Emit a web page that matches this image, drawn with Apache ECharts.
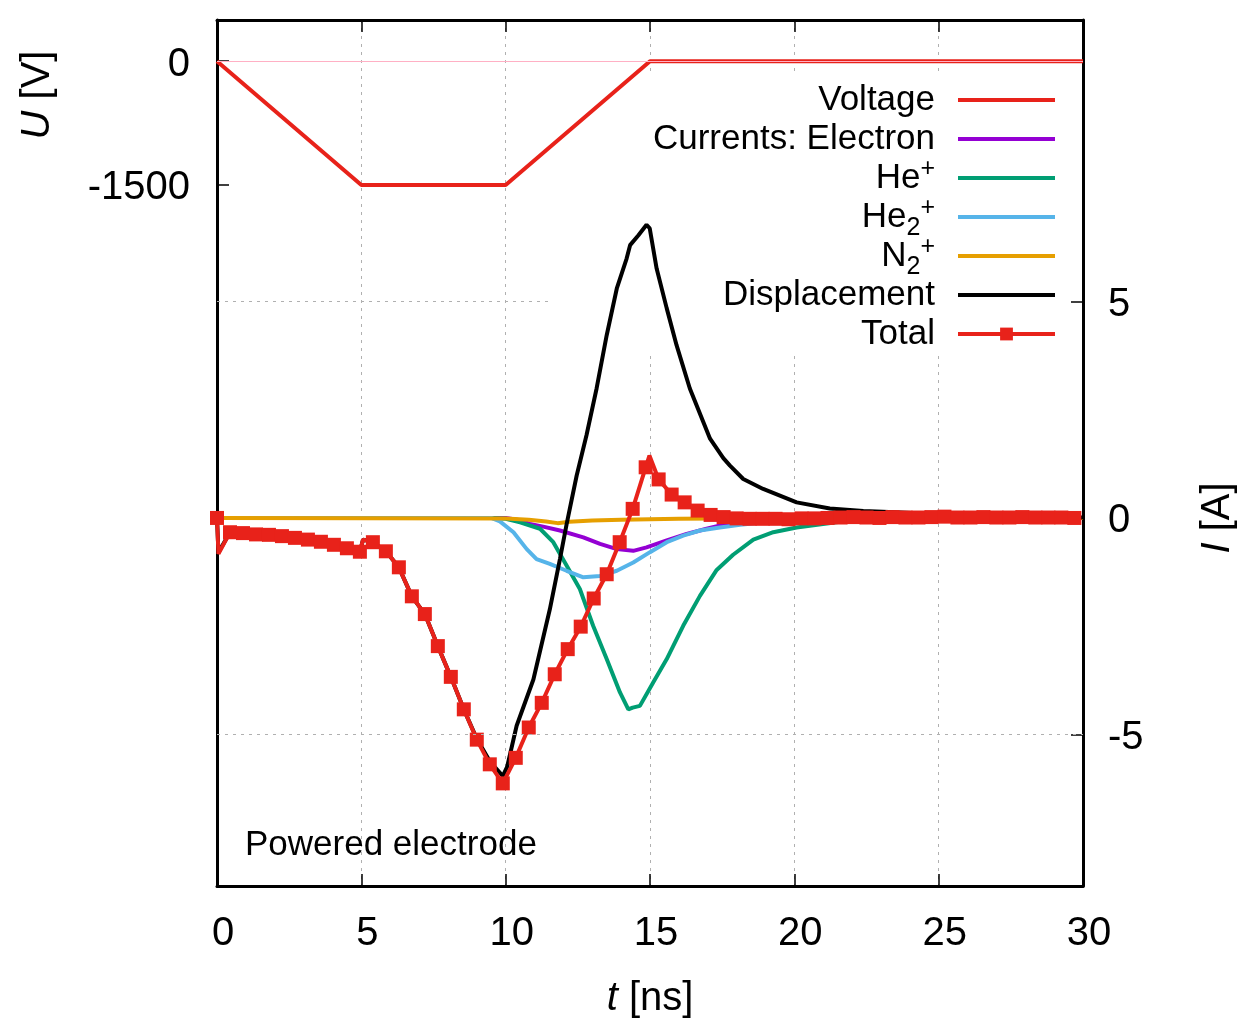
<!DOCTYPE html>
<html>
<head>
<meta charset="utf-8">
<title>Powered electrode</title>
<script src="https://cdn.jsdelivr.net/npm/echarts@6/dist/echarts.min.js"></script>
<style>
html, body { margin: 0; padding: 0; background: #fff; }
#chart { width: 1251px; height: 1034px; }
</style>
</head>
<body>
<div id="chart"></div>
<script>
// values, t in ns, U in V, I in A
var voltage = [[0, 0], [5, -1500], [10, -1500], [15, 0], [30, 0]];

var electron = [[0, 0], [10, 0], [10.4, -0.04], [10.84, -0.14], [11.3, -0.2], [11.88, -0.29], [12.69, -0.45],
    [13.27, -0.6], [13.85, -0.72], [14.42, -0.76], [14.88, -0.68], [15.58, -0.52], [16.27, -0.37],
    [16.96, -0.25], [17.65, -0.14], [18.6, -0.06], [19.5, -0.02], [21, 0], [30, 0]];

var heIon = [[0, 0], [9.5, 0], [10, -0.02], [10.5, -0.1], [11.19, -0.25], [11.65, -0.56], [12.11, -1.1],
    [12.57, -1.64], [13.03, -2.49], [13.5, -3.26], [13.96, -4.03], [14.25, -4.42], [14.4, -4.38],
    [14.65, -4.34], [15.11, -3.8], [15.58, -3.26], [16.15, -2.49], [16.73, -1.8], [17.31, -1.2],
    [17.88, -0.85], [18.58, -0.5], [19.27, -0.33], [20.08, -0.22], [21.58, -0.09], [22.97, -0.02],
    [25, 0], [30, 0]];

var he2Ion = [[0, 0], [9.5, 0], [9.8, -0.08], [10.27, -0.33], [10.73, -0.72], [11.07, -0.95], [11.53, -1.06],
    [12.11, -1.22], [12.69, -1.37], [13.27, -1.34], [13.85, -1.22], [14.42, -1.03], [15.0, -0.79],
    [15.58, -0.56], [16.15, -0.41], [16.73, -0.29], [17.42, -0.22], [18.12, -0.16], [18.8, -0.11],
    [19.5, -0.07], [20.5, -0.03], [22, -0.01], [30, 0]];

var n2Ion = [[0, 0], [10, -0.01], [10.8, -0.04], [11.4, -0.08], [11.8, -0.12], [12.2, -0.09], [13, -0.06],
    [14, -0.04], [15, -0.03], [16, -0.02], [17.5, -0.01], [19, 0], [30, 0]];

var displacement = [[0, 0], [0.05, -0.8], [0.45, -0.33], [1.35, -0.38], [2.25, -0.42], [3.15, -0.5],
    [4.05, -0.62], [4.95, -0.78], [5.06, -0.5], [5.4, -0.56], [5.85, -0.77], [6.3, -1.14], [6.75, -1.81],
    [7.2, -2.22], [7.65, -2.96], [8.1, -3.67], [8.55, -4.42], [9.0, -5.1], [9.45, -5.62], [9.9, -5.96],
    [10.05, -5.75], [10.38, -4.8], [10.96, -3.73], [11.53, -2.11], [11.88, -0.95], [12.11, -0.15],
    [12.46, 0.98], [12.8, 1.91], [13.15, 2.99], [13.5, 4.22], [13.85, 5.3], [14.19, 5.99], [14.31, 6.3],
    [14.6, 6.53], [14.88, 6.77], [14.99, 6.69], [15.23, 5.76], [15.58, 4.84], [15.92, 3.99], [16.38, 2.99],
    [16.85, 2.21], [17.08, 1.83], [17.54, 1.38], [17.77, 1.21], [18.23, 0.9], [18.92, 0.67], [20.08, 0.36],
    [21.23, 0.22], [22.39, 0.16], [23.5, 0.13], [24.47, 0.1], [25.5, 0.05], [27, 0.02], [30, 0.01]];

// total current, points that carry a square marker
var total = [[0, 0], [0.45, -0.33], [0.9, -0.35], [1.35, -0.38], [1.8, -0.39], [2.25, -0.42], [2.7, -0.46],
    [3.15, -0.5], [3.6, -0.55], [4.05, -0.62], [4.5, -0.7], [4.95, -0.78], [5.4, -0.56], [5.85, -0.77],
    [6.3, -1.14], [6.75, -1.81], [7.2, -2.22], [7.65, -2.96], [8.1, -3.67], [8.55, -4.42], [9.0, -5.12],
    [9.45, -5.69], [9.9, -6.13], [10.35, -5.54], [10.8, -4.84], [11.25, -4.27], [11.7, -3.61],
    [12.15, -3.03], [12.6, -2.51], [13.05, -1.86], [13.5, -1.3], [13.95, -0.56], [14.4, 0.21],
    [14.85, 1.17], [15.3, 0.89], [15.75, 0.54], [16.2, 0.36], [16.65, 0.17], [17.1, 0.07], [17.55, 0.02],
    [18.0, -0.01], [18.45, -0.02], [18.9, -0.02], [19.35, -0.02], [19.8, -0.03], [20.25, -0.01],
    [20.7, -0.01], [21.15, 0], [21.6, 0.01], [22.05, 0.02], [22.5, 0.01], [22.95, 0], [23.4, 0.02],
    [23.85, 0.01], [24.3, 0.01], [24.75, 0.02], [25.2, 0.03], [25.65, 0.01], [26.1, 0.01], [26.55, 0.02],
    [27.0, 0.01], [27.45, 0.01], [27.9, 0.02], [28.35, 0.01], [28.8, 0.01], [29.25, 0.01], [29.7, 0.0]];
// sharp spikes of the total line between markers
var totalSpikes = [[0.05, -0.83], [5.06, -0.5], [14.98, 1.44]];

var xTicks = [0, 30, 5];
var uTicks = [0, -1500];
var iTicks = [-5, 0, 5];

var FONT = '"Liberation Sans", Arial, Helvetica, sans-serif';
var RED = '#e8221a';
var LW = 4;

var legendLabels = {
    'Voltage': 'Voltage',
    'Currents: Electron': 'Currents: Electron',
    'He+': 'He{sup|+}',
    'He2+': 'He{sub|2}{sup|+}',
    'N2+': 'N{sub|2}{sup|+}',
    'Displacement': 'Displacement',
    'Total': 'Total'
};

function totalData() {
    var pts = total.map(function (p) { return { value: p }; });
    totalSpikes.forEach(function (p) { pts.push({ value: p, symbol: 'none' }); });
    pts.sort(function (a, b) { return a.value[0] - b.value[0]; });
    return pts;
}

function curve(name, data, color, axis) {
    return {
        name: name,
        type: 'line',
        yAxisIndex: axis,
        data: data,
        symbol: 'none',
        lineStyle: { color: color, width: LW },
        itemStyle: { color: color },
        emphasis: { disabled: true },
        z: 2
    };
}

// legend entry of a plain line: hide the dot ECharts puts in the middle
function lineOnly(name) {
    return { name: name, itemStyle: { color: 'rgba(0,0,0,0)', borderWidth: 0, opacity: 0 } };
}

var chart = echarts.init(document.getElementById('chart'));

var frameAxis = { show: true, onZero: false, lineStyle: { color: '#000', width: 3 } };
var innerTick = { show: true, inside: true, length: 12, lineStyle: { color: '#000', width: 1.5 } };
var gridDash = { color: '#b0b0b0', width: 1, type: [3, 5] };
// tick labels of the y axes sit a few pixels below the tick
var yLabel = function (v) { return '{n|' + v + '}'; };
var yLabelRich = { n: { fontSize: 40, fontFamily: FONT, color: '#000', padding: [7, 0, 0, 0] } };

var series = [
    curve('Voltage', voltage, RED, 0),
    curve('Currents: Electron', electron, '#9400d3', 1),
    curve('He+', heIon, '#009e73', 1),
    curve('He2+', he2Ion, '#56b4e9', 1),
    curve('N2+', n2Ion, '#e69f00', 1),
    curve('Displacement', displacement, '#000000', 1),
    {
        name: 'Total',
        type: 'line',
        yAxisIndex: 1,
        data: totalData(),
        symbol: 'rect',
        symbolSize: 14,
        showSymbol: true,
        lineStyle: { color: RED, width: LW },
        itemStyle: { color: RED },
        emphasis: { disabled: true },
        z: 3
    }
];

// zero line of the voltage axis (pink) and the current grid lines
series[0].markLine = {
    silent: true, symbol: 'none', label: { show: false },
    lineStyle: { color: '#ffb0c4', width: 1.2, type: 'solid' },
    data: [{ yAxis: 0 }]
};
series[1].markLine = {
    silent: true, symbol: 'none', label: { show: false },
    lineStyle: gridDash,
    data: [
        [{ coord: [0, 5] }, { coord: [11.55, 5] }],
        [{ coord: [0, -5] }, { coord: [30, -5] }]
    ]
};

var option = {
    animation: false,
    backgroundColor: '#fff',
    textStyle: { fontFamily: FONT },
    grid: { left: 217, right: 168, top: 20, bottom: 148 },
    xAxis: [{
        type: 'value', position: 'bottom',
        min: xTicks[0], max: xTicks[1], interval: xTicks[2],
        axisLine: frameAxis, axisTick: innerTick,
        axisLabel: { fontSize: 40, color: '#000', margin: 28, padding: [0, 0, 0, 12], fontFamily: FONT },
        splitLine: { show: true, lineStyle: gridDash },
        name: '{i|t} [ns]', nameLocation: 'middle', nameGap: 93,
        nameTextStyle: {
            fontSize: 40, color: '#000', fontFamily: FONT,
            rich: { i: { fontSize: 40, fontStyle: 'italic', fontFamily: FONT, color: '#000' } }
        }
    }, {
        type: 'value', position: 'top',
        min: xTicks[0], max: xTicks[1], interval: xTicks[2],
        axisLine: frameAxis, axisTick: innerTick,
        axisLabel: { show: false }, splitLine: { show: false }
    }],
    yAxis: [{
        type: 'value', position: 'left', min: -10000, max: 500,
        axisLine: frameAxis,
        axisTick: { show: true, inside: true, length: 12, lineStyle: { color: '#000', width: 1.5 }, customValues: uTicks },
        axisLabel: {
            fontSize: 40, color: '#000', margin: 27, fontFamily: FONT,
            customValues: uTicks, formatter: yLabel, rich: yLabelRich
        },
        splitLine: { show: false }
    }, {
        type: 'value', position: 'right', min: -8.5, max: 11.5,
        axisLine: frameAxis,
        axisTick: { show: true, inside: true, length: 12, lineStyle: { color: '#000', width: 1.5 }, customValues: iTicks },
        axisLabel: {
            fontSize: 40, color: '#000', margin: 25, fontFamily: FONT,
            customValues: iTicks, formatter: yLabel, rich: yLabelRich
        },
        splitLine: { show: false }
    }],
    legend: {
        orient: 'vertical', align: 'right',
        right: 194, top: 75, padding: 0,
        itemWidth: 97, itemHeight: 16, itemGap: -11,
        lineStyle: { width: LW },
        data: [
            lineOnly('Voltage'),
            lineOnly('Currents: Electron'),
            lineOnly('He+'),
            lineOnly('He2+'),
            lineOnly('N2+'),
            lineOnly('Displacement'),
            { name: 'Total' }
        ],
        formatter: function (name) { return legendLabels[name]; },
        textStyle: {
            // tall line box so that rows with sub/superscripts keep the same height
            fontSize: 35, lineHeight: 50, color: '#000', fontFamily: FONT, padding: [0, 18, 0, 0],
            rich: {
                sup: { fontSize: 25, padding: [0, 0, 18, 0], fontFamily: FONT, color: '#000' },
                sub: { fontSize: 25, padding: [22, 0, 0, 0], fontFamily: FONT, color: '#000' }
            }
        },
        selectedMode: false
    },
    graphic: [
        // opaque key box hides the grid behind the legend
        { type: 'rect', z: 1, silent: true, shape: { x: 550, y: 74, width: 518, height: 278 }, style: { fill: '#fff' } },
        {
            type: 'text', z: 5, x: 245, y: 845,
            style: { text: 'Powered electrode', fontSize: 35, fontFamily: FONT, fill: '#000', align: 'left', verticalAlign: 'middle' }
        },
        {
            type: 'text', z: 5, x: 38, y: 95, rotation: Math.PI / 2,
            style: {
                text: '{i|U} [V]', fontSize: 40, fontFamily: FONT, fill: '#000', align: 'center', verticalAlign: 'middle',
                rich: { i: { fontSize: 40, fontStyle: 'italic', fontFamily: FONT, fill: '#000' } }
            }
        },
        {
            type: 'text', z: 5, x: 1218, y: 518, rotation: Math.PI / 2,
            style: {
                text: '{i|I} [A]', fontSize: 40, fontFamily: FONT, fill: '#000', align: 'center', verticalAlign: 'middle',
                rich: { i: { fontSize: 40, fontStyle: 'italic', fontFamily: FONT, fill: '#000' } }
            }
        }
    ],
    series: series
};

chart.setOption(option);
</script>
</body>
</html>
